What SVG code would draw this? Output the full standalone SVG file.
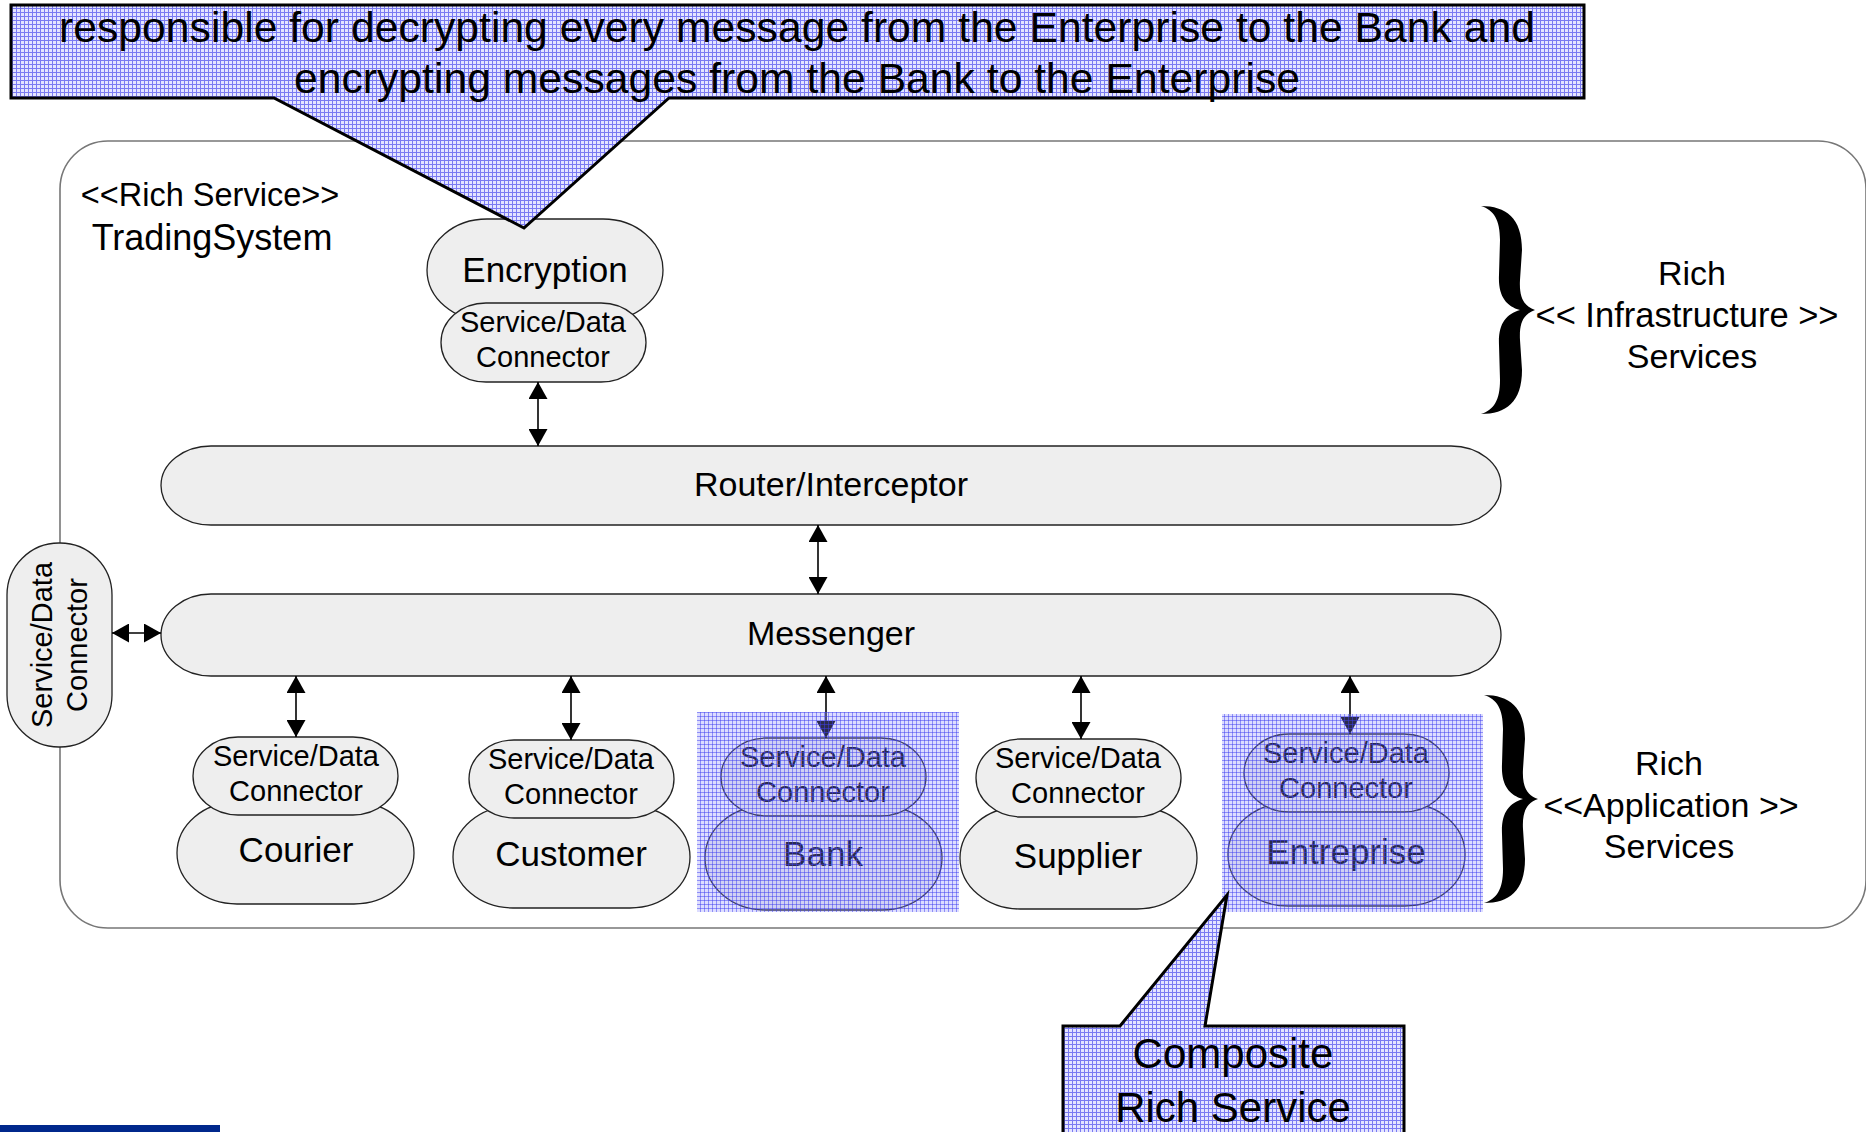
<svg xmlns="http://www.w3.org/2000/svg" width="1866" height="1132" viewBox="0 0 1866 1132">
<style>
text{font-family:"Liberation Sans",Arial,sans-serif;fill:#000}
.pill{fill:#eeeeee;stroke:#222;stroke-width:1.3}
.big{font-size:35px;text-anchor:middle}
.sm{font-size:29px;text-anchor:middle}
.lbl{font-size:34px;text-anchor:middle}
.conn{stroke:#000;stroke-width:1.6;fill:none;marker-start:url(#ah);marker-end:url(#ah)}
.callout{fill:url(#grid);stroke:#000;stroke-width:3;stroke-linejoin:miter}
.brace{fill:#000}
</style>
<defs>
<marker id="ah" viewBox="0 0 17 19" refX="17" refY="9.5" markerWidth="17" markerHeight="19" markerUnits="userSpaceOnUse" orient="auto-start-reverse"><path d="M0,0 L17,9.5 L0,19 z" fill="#000"/></marker>
<pattern id="grid" width="4" height="4" patternUnits="userSpaceOnUse"><rect width="4" height="4" fill="#e4e4ff"/><path d="M0 0.5H4M0.5 0V4" stroke="#7a7af2" stroke-width="1"/></pattern>
<pattern id="gridT" width="4" height="4" patternUnits="userSpaceOnUse"><rect width="4" height="4" fill="#9090ff" fill-opacity="0.3"/><path d="M0 0.5H4M0.5 0V4" stroke="#4040f0" stroke-opacity="0.5" stroke-width="1"/></pattern>
<path id="braceShape" d="M1481 206 C1506 206,1522 218,1522 250 L1520 280 C1519 298,1524 306,1535 310 C1524 314,1519 322,1520 340 L1522 370 C1522 402,1506 414,1481 414 C1494 410,1500 400,1500 380 L1499 345 C1498 324,1506 314,1520 310 C1506 306,1498 296,1499 275 L1500 240 C1500 220,1494 210,1481 206 Z"/>
</defs>
<rect width="1866" height="1132" fill="#fff"/>

<g id="container">
<rect x="60" y="141" width="1806" height="787" rx="48" ry="48" fill="none" stroke="#777" stroke-width="1.6"/>
<text x="210" y="206" style="font-size:32.5px;text-anchor:middle">&lt;&lt;Rich Service&gt;&gt;</text>
<text x="212" y="250" style="font-size:36px;text-anchor:middle">TradingSystem</text>
</g>

<g id="encryption">
<rect class="pill" x="427" y="219" width="236" height="102" rx="60" ry="51"/>
<text x="545" y="282" class="big">Encryption</text>
<rect class="pill" x="441" y="303" width="205" height="79" rx="45" ry="39.5"/>
<text x="543" y="332" class="sm">Service/Data</text>
<text x="543" y="367" class="sm">Connector</text>
</g>

<g id="router">
<rect class="pill" x="161" y="446" width="1340" height="79" rx="50" ry="39.5"/>
<text x="831" y="496" class="lbl">Router/Interceptor</text>
</g>

<g id="messenger">
<rect class="pill" x="161" y="594" width="1340" height="82" rx="50" ry="41"/>
<text x="831" y="645" class="lbl">Messenger</text>
</g>

<g id="left-connector">
<rect class="pill" x="7" y="543" width="105" height="204" rx="52" ry="52"/>
<text transform="translate(52,645) rotate(-90)" class="sm">Service/Data</text>
<text transform="translate(87,645) rotate(-90)" class="sm">Connector</text>
</g>

<g id="courier">
<rect class="pill" x="177" y="802" width="237" height="102" rx="60" ry="51"/>
<text x="296" y="862" class="big">Courier</text>
<rect class="pill" x="193" y="737" width="205" height="78" rx="45" ry="39"/>
<text x="296" y="766" class="sm">Service/Data</text>
<text x="296" y="801" class="sm">Connector</text>
</g>

<g id="customer">
<rect class="pill" x="453" y="806" width="237" height="102" rx="60" ry="51"/>
<text x="571" y="866" class="big">Customer</text>
<rect class="pill" x="469" y="740" width="205" height="78" rx="45" ry="39"/>
<text x="571" y="769" class="sm">Service/Data</text>
<text x="571" y="804" class="sm">Connector</text>
</g>

<g id="bank">
<rect class="pill" x="705" y="806" width="237" height="104" rx="60" ry="52"/>
<text x="823" y="866" class="big">Bank</text>
<rect class="pill" x="721" y="738" width="205" height="78" rx="45" ry="39"/>
<text x="823" y="767" class="sm">Service/Data</text>
<text x="823" y="802" class="sm">Connector</text>
</g>

<g id="supplier">
<rect class="pill" x="960" y="807" width="237" height="102" rx="60" ry="51"/>
<text x="1078" y="868" class="big">Supplier</text>
<rect class="pill" x="976" y="739" width="205" height="78" rx="45" ry="39"/>
<text x="1078" y="768" class="sm">Service/Data</text>
<text x="1078" y="803" class="sm">Connector</text>
</g>

<g id="entreprise">
<rect class="pill" x="1228" y="803" width="237" height="103" rx="60" ry="51"/>
<text x="1346" y="864" class="big">Entreprise</text>
<rect class="pill" x="1244" y="734" width="205" height="78" rx="45" ry="39"/>
<text x="1346" y="763" class="sm">Service/Data</text>
<text x="1346" y="798" class="sm">Connector</text>
</g>

<g id="connectors">
<line class="conn" x1="538" y1="382" x2="538" y2="446"/>
<line class="conn" x1="818" y1="525" x2="818" y2="594"/>
<line class="conn" x1="112" y1="633" x2="161" y2="633"/>
<line class="conn" x1="296" y1="676" x2="296" y2="737"/>
<line class="conn" x1="571" y1="676" x2="571" y2="740"/>
<line class="conn" x1="826" y1="676" x2="826" y2="738"/>
<line class="conn" x1="1081" y1="676" x2="1081" y2="739"/>
<line class="conn" x1="1350" y1="676" x2="1350" y2="734"/>
</g>

<g id="composite-highlights">
<rect x="697" y="712" width="262" height="200" fill="url(#gridT)"/>
<rect x="1222" y="714" width="261" height="198" fill="url(#gridT)"/>
</g>

<g id="infrastructure-brace">
<use href="#braceShape" class="brace"/>
<text x="1692" y="285" class="lbl">Rich</text>
<text x="1687" y="327" style="font-size:34.5px;text-anchor:middle">&lt;&lt; Infrastructure &gt;&gt;</text>
<text x="1692" y="368" class="lbl">Services</text>
</g>

<g id="application-brace">
<use href="#braceShape" class="brace" transform="translate(3,489)"/>
<text x="1669" y="775" class="lbl">Rich</text>
<text x="1671" y="817" class="lbl">&lt;&lt;Application &gt;&gt;</text>
<text x="1669" y="858" class="lbl">Services</text>
</g>

<g id="encryption-callout">
<path class="callout" d="M11 5 H1584 V98 H669 L524 228 L274 98 H11 Z"/>
<text x="797" y="42" style="font-size:42.7px;text-anchor:middle">responsible for decrypting every message from the Enterprise to the Bank and</text>
<text x="797" y="93" style="font-size:42.7px;text-anchor:middle">encrypting messages from the Bank to the Enterprise</text>
</g>

<g id="composite-callout">
<path class="callout" d="M1063 1026 H1120 L1227 895 L1205 1026 H1404 V1145 H1063 Z"/>
<text x="1233" y="1068" style="font-size:42px;text-anchor:middle">Composite</text>
<text x="1233" y="1122" style="font-size:42px;text-anchor:middle">Rich Service</text>
</g>

<rect id="footer-bar" x="0" y="1125" width="220" height="7" fill="#00288c"/>
</svg>
